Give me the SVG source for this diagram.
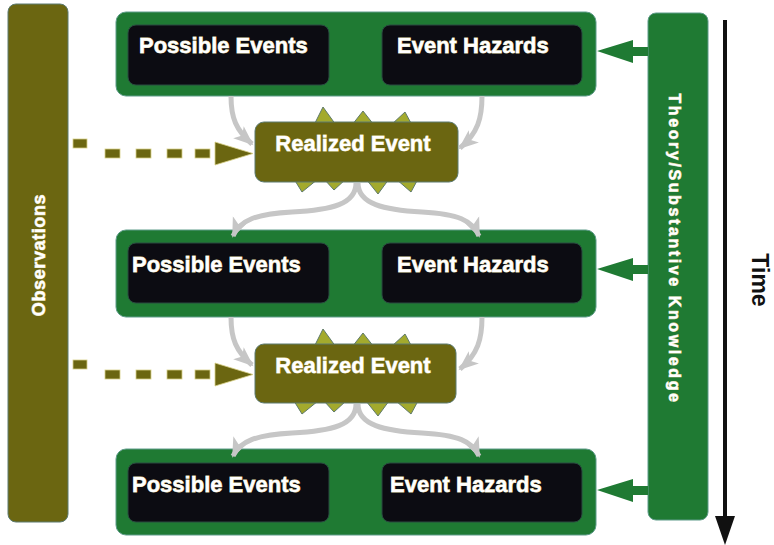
<svg xmlns="http://www.w3.org/2000/svg" width="774" height="545" viewBox="0 0 774 545">
<style>
.lbl{font-family:"Liberation Sans",Arial,sans-serif;font-weight:bold;fill:#ffffff;stroke:#e2dcae;stroke-width:0.8;paint-order:stroke}
.grp{fill:#1f7a33;stroke:#5f9c8a;stroke-width:1}
.blk{fill:#0c0c12;stroke:#2a4a40;stroke-width:1}
.olv{fill:#6b6611;stroke:#5c7a70;stroke-width:1}
.gray{fill:none;stroke:#c6c6c6;stroke-width:5}
.dash{fill:#6b6611;stroke:#d8d088;stroke-width:0.8}
.star{fill:#a3aa2d;stroke:#5f7a6a;stroke-width:1;stroke-linejoin:miter}
.garr{fill:#1f7a33}
</style>
<defs>
<marker id="gh" markerUnits="userSpaceOnUse" markerWidth="22" markerHeight="18" refX="18" refY="8" orient="auto" viewBox="0 0 22 16">
<path d="M0,0 L20,8 L0,16 L5,8 Z" fill="#c6c6c6"/>
</marker>
<path id="burst" d="M314,125 L323,107 L336,125 Z M352,125 L363,111 L374,125 Z M391,125 L405,112 L412,125 Z M294,179 L302,192 L318,179 Z M324,179 L334,190 L346,179 Z M366,179 L378,194 L389,179 Z M396,179 L411,192 L418,179 Z"/>
</defs>

<g id="observations">
<rect x="8" y="4" width="60" height="518" rx="8" class="olv"/>
<text class="lbl" font-size="18" letter-spacing="0.6" text-anchor="middle" transform="translate(45,255) rotate(-90)">Observations</text>
</g>

<g id="theory">
<rect x="648" y="13" width="60" height="507" rx="8" class="grp"/>
<text class="lbl" font-size="16" letter-spacing="2.6" text-anchor="middle" transform="translate(669,249) rotate(90)">Theory/Substantive Knowledge</text>
</g>

<g id="time">
<line x1="725" y1="20" x2="725" y2="518" stroke="#111" stroke-width="4"/>
<polygon points="715,516 735,516 725,545" fill="#111"/>
<text font-family="'Liberation Sans',Arial,sans-serif" font-size="23" font-weight="bold" fill="#111" text-anchor="middle" transform="translate(752,280) rotate(90)">Time</text>
</g>

<g id="stage1">
<rect x="116" y="12" width="480" height="84" rx="10" class="grp"/>
<rect x="128" y="25" width="201" height="60" rx="8" class="blk"/>
<rect x="382" y="25" width="200" height="60" rx="8" class="blk"/>
<text class="lbl" font-size="22" x="139" y="53">Possible Events</text>
<text class="lbl" font-size="22" x="397" y="53">Event Hazards</text>
</g>

<g id="stage2">
<rect x="116" y="230" width="480" height="87" rx="10" class="grp"/>
<rect x="128" y="243" width="201" height="60" rx="8" class="blk"/>
<rect x="382" y="243" width="200" height="60" rx="8" class="blk"/>
<text class="lbl" font-size="22" x="132" y="272">Possible Events</text>
<text class="lbl" font-size="22" x="397" y="272">Event Hazards</text>
</g>

<g id="stage3">
<rect x="116" y="449" width="480" height="86" rx="10" class="grp"/>
<rect x="128" y="463" width="201" height="59" rx="8" class="blk"/>
<rect x="382" y="463" width="200" height="59" rx="8" class="blk"/>
<text class="lbl" font-size="22" x="132" y="492">Possible Events</text>
<text class="lbl" font-size="22" x="390" y="492">Event Hazards</text>
</g>

<g id="realized1">
<use href="#burst" class="star"/>
<rect x="255" y="122" width="203" height="60" rx="9" class="olv"/>
<text class="lbl" font-size="22" x="353" y="151" text-anchor="middle">Realized Event</text>
</g>

<g id="realized2">
<use href="#burst" class="star" transform="translate(0,222)"/>
<rect x="255" y="344" width="201" height="59" rx="9" class="olv"/>
<text class="lbl" font-size="22" x="353" y="373" text-anchor="middle">Realized Event</text>
</g>

<g id="connectors">
<path class="gray" marker-end="url(#gh)" d="M231,96 C231,118 236,130 252,144"/>
<path class="gray" marker-end="url(#gh)" d="M482,96 C482,118 478,133 460,148"/>
<path class="gray" marker-end="url(#gh)" d="M356,183 C356,204 332,210 292,212 C256,214 240,220 233,236"/>
<path class="gray" marker-end="url(#gh)" d="M358,183 C358,204 384,210 422,212 C458,214 472,220 479,236"/>

<path class="gray" marker-end="url(#gh)" d="M231,317 C231,339 236,351 252,365"/>
<path class="gray" marker-end="url(#gh)" d="M482,317 C482,339 478,354 460,369"/>
<path class="gray" marker-end="url(#gh)" d="M356,404 C356,425 332,431 292,433 C256,435 240,441 233,456"/>
<path class="gray" marker-end="url(#gh)" d="M358,404 C358,425 384,431 422,433 C458,435 472,441 479,456"/>

<polygon class="garr" points="597,51 633,40 633,47 648,47 648,56 633,56 633,63"/>
<polygon class="garr" points="597,269 633,258 633,265 648,265 648,274 633,274 633,281"/>
<polygon class="garr" points="597,490 633,479 633,486 648,486 648,495 633,495 633,502"/>

<g id="dash1">
<rect class="dash" x="73" y="139" width="14" height="9"/>
<rect class="dash" x="105" y="149" width="15" height="9"/>
<rect class="dash" x="136" y="149" width="15" height="9"/>
<rect class="dash" x="167" y="149" width="15" height="9"/>
<rect class="dash" x="195" y="149" width="15" height="9"/>
<polygon class="dash" points="215,142 253,153.5 215,165"/>
</g>
<g id="dash2">
<rect class="dash" x="73" y="360" width="14" height="9"/>
<rect class="dash" x="105" y="370" width="15" height="9"/>
<rect class="dash" x="136" y="370" width="15" height="9"/>
<rect class="dash" x="167" y="370" width="15" height="9"/>
<rect class="dash" x="195" y="370" width="15" height="9"/>
<polygon class="dash" points="215,363 253,374.5 215,386"/>
</g>
</g>
</svg>
